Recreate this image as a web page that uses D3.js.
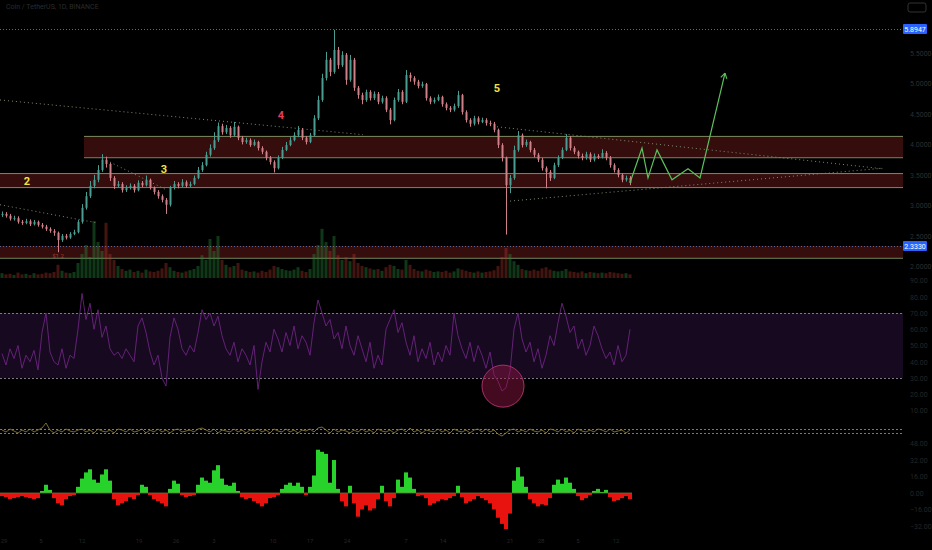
<!DOCTYPE html>
<html><head><meta charset="utf-8">
<script src="https://cdn.jsdelivr.net/npm/d3@7"></script>
<style>html,body{margin:0;background:#000;}svg{display:block;}</style>
</head><body><svg id="c" width="932" height="550"></svg>
<script>
// ---- data ----
const firstOpen = 2.84;
const closes = [
2.86,2.83,2.78,2.79,2.73,2.71,2.74,2.69,2.73,2.68,
2.65,2.61,2.58,2.55,2.43,2.50,2.47,2.53,2.56,2.73,
2.96,3.15,3.32,3.42,3.58,3.75,3.68,3.45,3.32,3.35,
3.25,3.29,3.32,3.25,3.37,3.33,3.42,3.29,3.22,3.15,
3.09,3.01,3.29,3.35,3.32,3.38,3.32,3.35,3.45,3.58,
3.66,3.83,3.94,4.07,4.30,4.20,4.27,4.15,4.29,4.11,
4.04,4.07,3.99,4.04,3.94,3.88,3.78,3.71,3.61,3.78,
3.91,3.99,4.07,4.15,4.24,4.11,4.04,4.15,4.43,4.73,
5.09,5.39,5.19,5.55,5.30,5.47,5.06,5.39,4.93,4.81,
4.73,4.86,4.76,4.83,4.70,4.76,4.57,4.40,4.73,4.86,
4.70,5.14,5.09,5.03,4.96,4.99,4.76,4.70,4.73,4.78,
4.66,4.60,4.57,4.63,4.81,4.53,4.40,4.34,4.43,4.37,
4.40,4.35,4.34,4.24,3.99,3.78,3.33,3.45,3.91,4.15,
3.99,4.04,3.91,3.83,3.75,3.61,3.55,3.45,3.66,3.78,
3.91,4.11,3.94,3.88,3.81,3.78,3.84,3.75,3.81,3.79,
3.86,3.78,3.66,3.58,3.50,3.42,3.45,3.37];
const highs = [
2.90,2.89,2.86,2.83,2.82,2.76,2.78,2.77,2.76,2.75,
2.71,2.68,2.64,2.61,2.57,2.53,2.53,2.56,2.60,2.76,
3.02,3.22,3.40,3.50,3.66,3.84,3.80,3.70,3.48,3.40,
3.38,3.33,3.36,3.35,3.41,3.40,3.49,3.44,3.31,3.25,
3.18,3.12,3.32,3.40,3.38,3.43,3.41,3.39,3.49,3.63,
3.71,3.88,4.00,4.20,4.36,4.34,4.32,4.30,4.37,4.31,
4.14,4.11,4.10,4.08,4.06,3.97,3.90,3.81,3.74,3.82,
3.96,4.04,4.12,4.20,4.30,4.27,4.14,4.19,4.48,4.80,
5.16,5.52,5.42,5.88,5.60,5.53,5.50,5.47,5.42,4.96,
4.85,4.90,4.89,4.87,4.86,4.80,4.79,4.60,4.77,4.91,
4.89,5.22,5.18,5.12,5.06,5.03,5.01,4.79,4.77,4.82,
4.80,4.69,4.63,4.67,4.88,4.83,4.56,4.43,4.47,4.46,
4.44,4.43,4.39,4.37,4.26,4.02,3.80,3.50,3.98,4.22,
4.18,4.08,4.06,3.94,3.86,3.78,3.64,3.58,3.70,3.82,
3.95,4.17,4.14,3.97,3.90,3.85,3.88,3.87,3.85,3.84,
3.92,3.89,3.81,3.69,3.61,3.53,3.49,3.48];
const lows = [
2.81,2.80,2.75,2.75,2.70,2.68,2.69,2.66,2.67,2.65,
2.62,2.58,2.55,2.50,2.23,2.40,2.44,2.45,2.51,2.54,
2.70,2.93,3.12,3.28,3.38,3.55,3.62,3.40,3.27,3.29,
3.21,3.22,3.26,3.21,3.23,3.30,3.31,3.26,3.18,3.11,
3.05,2.86,2.98,3.26,3.28,3.30,3.29,3.30,3.33,3.43,
3.55,3.64,3.80,3.91,4.04,4.16,4.17,4.11,4.13,4.07,
4.00,4.01,3.96,3.97,3.90,3.84,3.74,3.67,3.54,3.59,
3.76,3.89,3.97,4.05,4.12,4.07,4.00,4.02,4.13,4.40,
4.70,5.05,5.12,5.16,5.24,5.27,4.98,5.03,4.88,4.75,
4.66,4.70,4.72,4.73,4.66,4.67,4.53,4.33,4.38,4.70,
4.66,4.68,5.03,4.98,4.92,4.93,4.72,4.66,4.67,4.71,
4.62,4.56,4.53,4.54,4.60,4.49,4.36,4.29,4.31,4.33,
4.35,4.31,4.30,4.20,3.94,3.72,2.52,3.20,3.42,3.88,
3.95,3.96,3.87,3.79,3.71,3.57,3.28,3.40,3.43,3.63,
3.76,3.89,3.90,3.84,3.77,3.74,3.75,3.71,3.72,3.76,
3.77,3.74,3.62,3.54,3.46,3.38,3.39,3.33];
const volumes = [
8,6,7,5,9,6,7,5,8,6,
7,9,8,10,22,12,9,8,10,25,
40,55,35,95,60,45,92,40,30,20,
15,12,14,10,12,9,14,11,10,12,
16,25,18,12,10,9,11,13,15,20,
38,30,65,45,70,30,22,18,20,25,
14,12,10,11,9,12,10,14,20,18,
15,13,12,14,18,12,10,15,40,55,
82,60,45,70,38,30,35,28,40,25,
20,18,16,14,15,12,18,22,20,15,
14,30,22,15,12,11,14,12,10,11,
10,12,9,11,16,14,12,10,9,11,
9,10,11,13,20,35,50,40,28,22,
15,13,12,14,12,16,18,14,12,11,
12,15,11,10,9,11,8,10,9,8,
9,8,10,9,8,7,8,6];
const rsi = [
45,38,48,42,50,36,44,40,47,35,
58,70,46,40,38,48,36,44,42,60,
82,66,76,60,72,55,62,48,44,46,
42,48,44,40,62,67,58,46,38,44,
30,25,55,67,60,48,44,50,46,58,
72,66,70,62,68,56,48,44,52,40,
48,44,38,50,23,40,52,46,60,54,
46,58,50,62,48,56,52,44,64,78,
70,62,66,54,58,48,62,50,44,56,
48,40,52,36,44,38,60,66,72,58,
64,52,44,56,40,48,42,52,38,46,
40,50,44,70,56,48,42,52,40,50,
44,36,46,32,28,22,24,34,60,70,
54,46,52,40,48,36,44,56,50,64,
76,68,58,62,48,54,44,50,62,56,
48,42,46,38,50,40,44,60];
const osc = [
1,-1,2,0,-2,1,-1,2,-1,1,
3,8,1,-2,1,-1,2,0,-1,1,
2,-1,1,-2,2,0,-1,1,-2,2,
1,-1,2,-1,0,2,-2,1,-1,2,
-1,1,-2,1,2,-1,0,1,-1,2,
3,1,-1,2,-2,1,0,-1,2,-1,
1,-2,1,0,2,-1,1,-2,2,0,
-1,2,-1,1,-2,1,0,2,-1,3,
4,1,-2,2,-1,1,0,-2,1,-1,
2,-1,1,-2,2,0,-1,1,-2,1,
2,-1,3,-1,1,-2,1,0,-1,2,
-1,1,-2,2,0,-1,1,-2,1,2,
-1,2,-1,1,-3,-5,-2,1,2,-1,
1,-1,2,0,-1,1,-2,2,1,-1,
2,-1,1,-2,2,0,-1,1,-1,2,
1,-1,2,-1,0,1,-2,1];
const hist = [
-3,-4,-6,-5,-4,-3,-4,-5,-6,-5,
2,8,3,-5,-10,-12,-6,-3,-2,6,
14,20,23,13,10,18,23,12,-6,-12,
-10,-8,-4,-6,-2,8,6,-2,-6,-8,
-10,-13,4,12,9,-2,-4,-3,-2,8,
15,12,10,22,27,14,8,7,10,2,
-4,-6,-5,-8,-10,-13,-10,-5,-4,-2,
4,8,10,7,10,6,-2,6,17,42,
40,38,10,32,4,-8,-13,7,-10,-23,
-16,-12,-17,-15,-6,7,-8,-13,-5,13,
6,20,15,4,-3,-2,-5,-12,-10,-8,
-6,-7,-5,-3,7,-4,-10,-8,-6,-3,
-5,-7,-10,-16,-24,-30,-35,-20,12,25,
16,6,-6,-10,-13,-11,-12,-5,8,13,
9,15,10,4,-3,-7,-5,-2,2,4,
1,3,-4,-8,-7,-5,-3,-6];
const forecastIdx = [157,160,161.5,163.75,167.5,171.5,174.5,180.75];
const forecastPrice = [3.37,3.94,3.45,3.91,3.42,3.60,3.45,5.17];
// trendlines: [idx1, price1, idx2, price2]
const trendA = [-0.5,4.73,90.25,4.16];
const trendB = [-0.5,3.01,24,2.71];
const trendC = [27,3.71,41.25,3.25];
const trendD = [123.75,4.29,220.25,3.60];
const trendE = [127,3.07,220.25,3.61];
const zoneStart = [20.5,-1,-1];
const zoneTop = [4.14,3.53,2.333];
const zoneBottom = [3.79,3.30,2.14];
const markLevels = [5.8947,2.3330];
const priceTicks = [5.5,5.0,4.5,4.0,3.5,3.0,2.5,2.0];
const rsiTicks = [90,80,70,60,50,40,30,20,10];
const rsiBands = [70,30];
const oscBands = [2,-2];
const histTicks = [48,32,16,0,-16,-32];
const waveLabels = ["2","3","4","5"];
const waveIdx = [6.25,40.5,69.75,123.75];
const wavePrice = [3.34,3.53,4.42,4.86];
const timeIdx = [0.5,9.75,20,34.25,43.5,53,67.75,77,86.25,101,110.25,127,134.75,144,153.5];
const timeLabels = ["29","5","12","19","26","3","10","17","24","7","14","21","28","5","12"];
const title = "Coin / TetherUS, 1D, BINANCE";

// ---- layout ----
const svg = d3.select("#c");
const plotR = 903;
const axisCol = "#2f2f2f";
svg.append("rect").attr("width",932).attr("height",550).attr("fill","#000");
const x = d3.scaleLinear().domain([0,157]).range([2,630]);
const y = d3.scaleLinear().domain([2.333,5.8947]).range([246,29]);
const yv = d3.scaleLinear().domain([0,100]).range([278,218]);
const yr = d3.scaleLinear().domain([30,70]).range([378,313]);
const yo = d3.scaleLinear().domain([-10,10]).range([441,421]);
const yh = d3.scaleLinear().domain([-40,40]).range([534.2,451.8]);
const opens = closes.map((c,i)=> i===0 ? firstOpen : closes[i-1]);
const idx = d3.range(closes.length);

// title
svg.append("text").attr("x",6).attr("y",9).attr("fill","#2c2c2c")
  .attr("font-family","Roboto, sans-serif").attr("font-size",7).text(title);
svg.append("rect").attr("x",908).attr("y",3).attr("width",18).attr("height",9).attr("rx",2)
  .attr("fill","none").attr("stroke","#333");

// zones
zoneTop.forEach((t,k)=>{
  const x0 = Math.max(0, x(zoneStart[k]));
  svg.append("rect").attr("x",x0).attr("y",y(t)).attr("width",plotR-x0)
    .attr("height",y(zoneBottom[k])-y(t)).attr("fill","#350d0d");
  [t,zoneBottom[k]].forEach((v,j)=>{
    svg.append("line").attr("x1",x0).attr("x2",plotR).attr("y1",y(v)+0.5).attr("y2",y(v)+0.5)
      .attr("stroke", (k===2&&j===0)?"none":"#7a8a60").attr("stroke-width",1);
  });
});
// horizontal marked levels (dotted)
markLevels.forEach(v=>{
  svg.append("line").attr("x1",0).attr("x2",plotR).attr("y1",y(v)+0.5).attr("y2",y(v)+0.5)
    .attr("stroke","#56699e").attr("stroke-dasharray","1,2");
});

// volume
svg.append("g").selectAll("rect").data(idx).join("rect")
  .attr("x",i=>x(i)-1.5).attr("width",3)
  .attr("y",i=>yv(volumes[i])).attr("height",i=>yv(0)-yv(volumes[i]))
  .attr("fill",i=>closes[i]>=opens[i]?"rgba(40,140,60,0.4)":"rgba(190,60,50,0.35)");

// trendlines
[trendA,trendB,trendC,trendD,trendE].forEach(t=>{
  svg.append("line").attr("x1",Math.max(0,x(t[0]))).attr("y1",y(t[1]))
    .attr("x2",x(t[2])).attr("y2",y(t[3]))
    .attr("stroke","#7d8c6c").attr("stroke-width",1).attr("stroke-dasharray","1,3");
});

// candles
const cg = svg.append("g");
cg.selectAll("line").data(idx).join("line")
  .attr("x1",i=>Math.round(x(i))+0.5).attr("x2",i=>Math.round(x(i))+0.5)
  .attr("y1",i=>y(highs[i])).attr("y2",i=>y(lows[i]))
  .attr("stroke",i=>closes[i]>=opens[i]?"#4a9d90":"#d08088").attr("stroke-width",1);
cg.selectAll("rect").data(idx).join("rect")
  .attr("x",i=>Math.round(x(i))-0.5).attr("width",2)
  .attr("y",i=>y(Math.max(opens[i],closes[i])))
  .attr("height",i=>Math.max(1,Math.abs(y(opens[i])-y(closes[i]))))
  .attr("fill",i=>closes[i]>=opens[i]?"#4a9d90":"#d08088");

// forecast path
const fpts = forecastIdx.map((d,k)=>[x(d),y(forecastPrice[k])]);
svg.append("path").attr("d",d3.line()(fpts)).attr("fill","none")
  .attr("stroke","#5cc05c").attr("stroke-width",1.2);
const last = fpts[fpts.length-1], prev = fpts[fpts.length-2];
const ang = Math.atan2(last[1]-prev[1], last[0]-prev[0]);
[ang+2.6, ang-2.6].forEach(a=>{
  svg.append("line").attr("x1",last[0]).attr("y1",last[1])
    .attr("x2",last[0]+6*Math.cos(a)).attr("y2",last[1]+6*Math.sin(a))
    .attr("stroke","#5cc05c").attr("stroke-width",1.2);
});

// wave labels
waveLabels.forEach((t,k)=>{
  svg.append("text").attr("x",x(waveIdx[k])).attr("y",y(wavePrice[k]))
    .attr("text-anchor","middle").attr("font-family","Roboto, sans-serif")
    .attr("font-size",11).attr("font-weight","bold")
    .attr("fill", t==="4" ? "#e0405a" : "#f2e345").text(t);
});
svg.append("text").attr("x",x(14)).attr("y",y(2.13)).attr("text-anchor","middle")
  .attr("font-family","Roboto, sans-serif").attr("font-size",6).attr("fill","#b03a2e").text("$1.2");

// price axis
const pa = svg.append("g").attr("transform",`translate(${plotR+4},0)`)
  .call(d3.axisRight(y).tickValues(priceTicks).tickSize(0).tickFormat(d3.format(".4f")));
pa.select(".domain").remove();
pa.selectAll("text").attr("fill",axisCol).attr("font-size",7).attr("font-family","Roboto, sans-serif");
markLevels.forEach(v=>{
  svg.append("rect").attr("x",plotR).attr("y",y(v)-5).attr("width",24).attr("height",10)
    .attr("rx",1).attr("fill","#2962ff");
  svg.append("text").attr("x",plotR+12).attr("y",y(v)+2.5).attr("text-anchor","middle")
    .attr("font-family","Roboto, sans-serif").attr("font-size",7).attr("fill","#fff")
    .text(d3.format(".4f")(v));
});

// RSI pane
svg.append("rect").attr("x",0).attr("y",yr(70)).attr("width",plotR).attr("height",yr(30)-yr(70))
  .attr("fill","#170920");
rsiBands.forEach(v=>{
  svg.append("line").attr("x1",0).attr("x2",plotR).attr("y1",yr(v)+0.5).attr("y2",yr(v)+0.5)
    .attr("stroke","#7e7888").attr("stroke-dasharray","2,2");
});
svg.append("path").attr("d",d3.line().x(i=>x(i)).y(i=>yr(rsi[i]))(idx))
  .attr("fill","none").attr("stroke","#6c2480").attr("stroke-width",0.9);
const ra = svg.append("g").attr("transform",`translate(${plotR+4},0)`)
  .call(d3.axisRight(yr).tickValues(rsiTicks).tickSize(0).tickFormat(d3.format(".2f")));
ra.select(".domain").remove();
ra.selectAll("text").attr("fill","#262626").attr("font-size",7).attr("font-family","Roboto, sans-serif");
// highlight circle
svg.append("circle").attr("cx",x(125.25)).attr("cy",yr(25)).attr("r",21)
  .attr("fill","rgba(150,25,70,0.45)").attr("stroke","#a8306a").attr("stroke-width",1);

// oscillator pane
oscBands.forEach(v=>{
  svg.append("line").attr("x1",0).attr("x2",plotR).attr("y1",yo(v)+0.5).attr("y2",yo(v)+0.5)
    .attr("stroke","#857a5e").attr("stroke-dasharray","2,2");
});
svg.append("path").attr("d",d3.line().x(i=>x(i)).y(i=>yo(osc[i]))(idx))
  .attr("fill","none").attr("stroke","#958540").attr("stroke-width",0.8);

// histogram pane
svg.append("g").selectAll("rect").data(idx).join("rect")
  .attr("x",i=>x(i)-2).attr("width",4)
  .attr("y",i=>Math.min(yh(0),yh(hist[i])))
  .attr("height",i=>Math.abs(yh(hist[i])-yh(0)))
  .attr("fill",i=>hist[i]>=0?"#27d22a":"#e8120f");
svg.append("line").attr("x1",0).attr("x2",x(157)+2).attr("y1",yh(0)).attr("y2",yh(0))
  .attr("stroke","#7a6a3a").attr("stroke-width",0.8);
const ha = svg.append("g").attr("transform",`translate(${plotR+4},0)`)
  .call(d3.axisRight(yh).tickValues(histTicks).tickSize(0).tickFormat(d3.format(".2f")));
ha.select(".domain").remove();
ha.selectAll("text").attr("fill","#262626").attr("font-size",7).attr("font-family","Roboto, sans-serif");

// time axis
timeIdx.forEach((t,k)=>{
  svg.append("text").attr("x",x(t)).attr("y",543).attr("text-anchor","middle")
    .attr("font-family","Roboto, sans-serif").attr("font-size",6).attr("fill","#262626").text(timeLabels[k]);
});
</script></body></html>
